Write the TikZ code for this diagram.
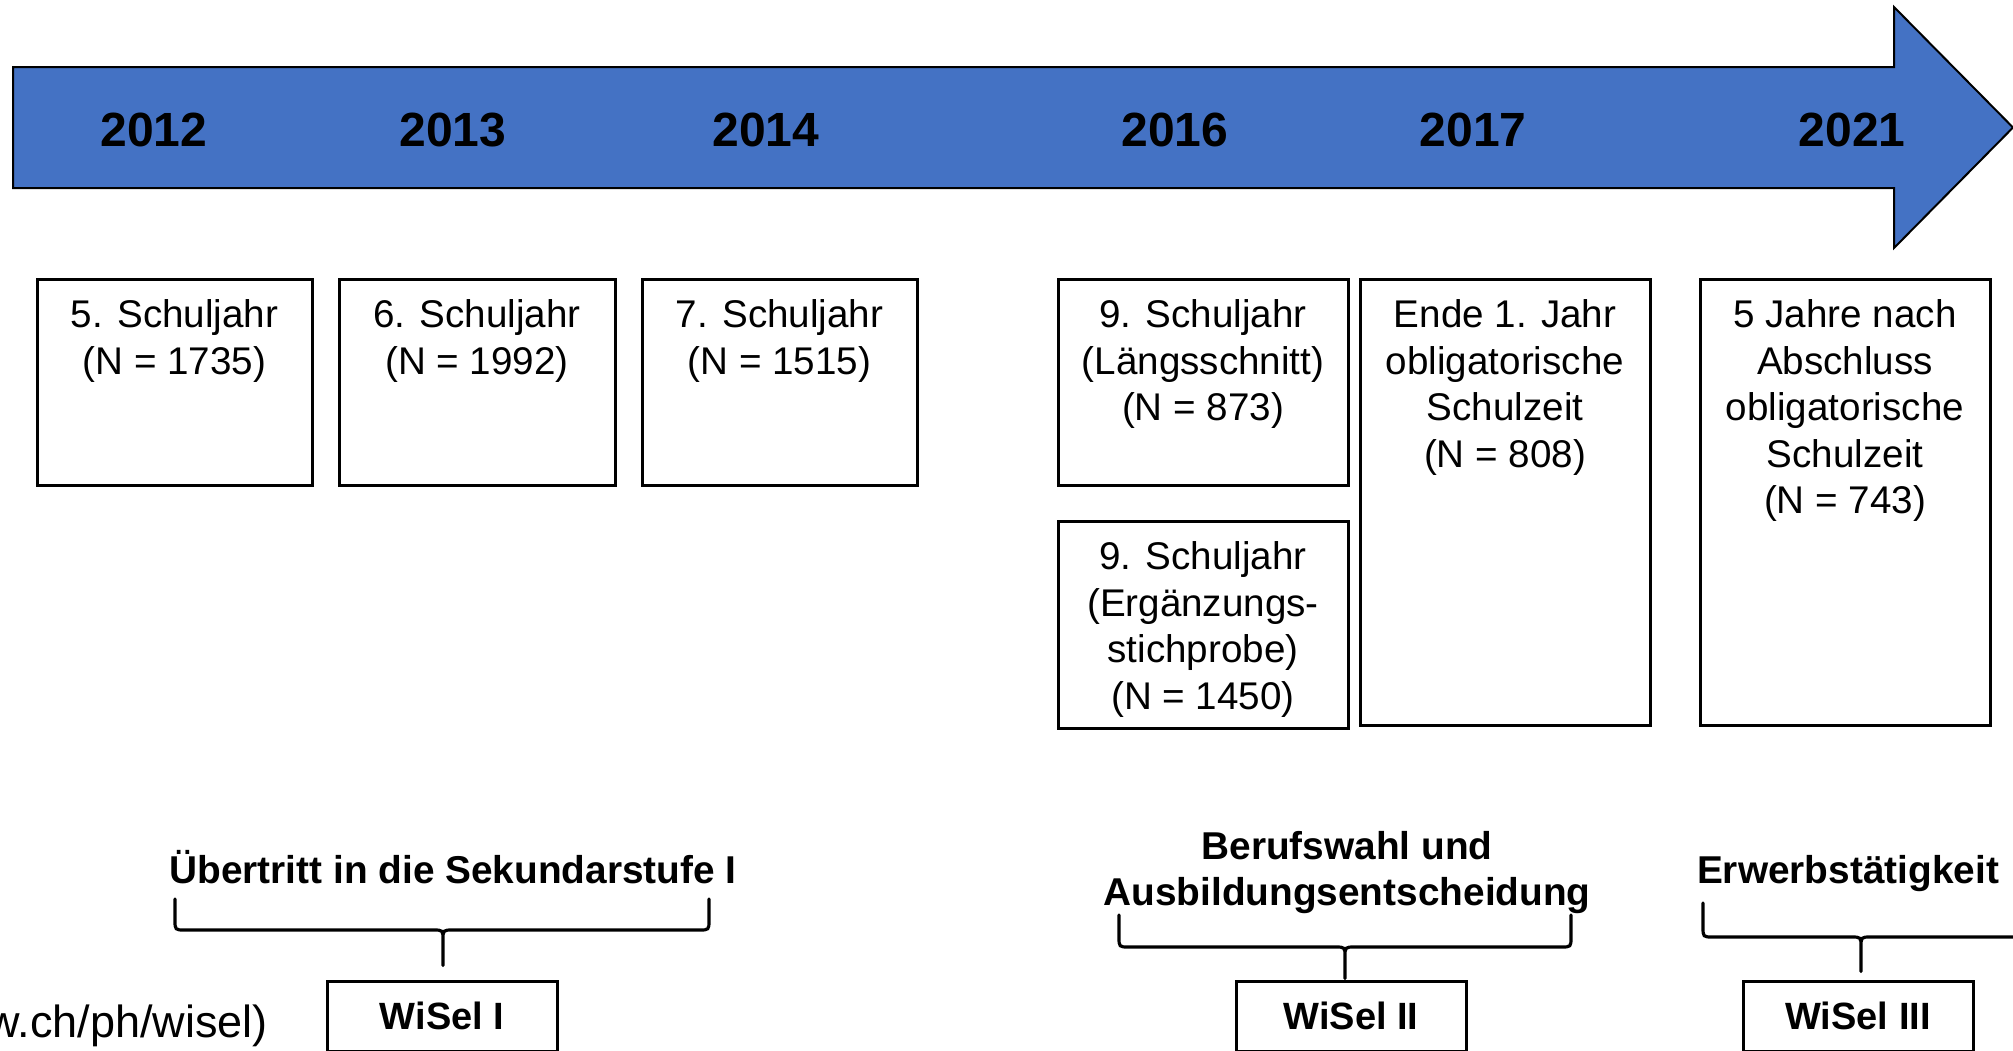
\documentclass[tikz,border=0pt]{standalone}
\usepackage{fontspec}
\setmainfont{Liberation Sans}
\definecolor{arrowblue}{HTML}{4472C4}
\begin{document}
\begin{tikzpicture}[x=0.5pt,y=-0.5pt,
  box/.style={draw, line width=1.5pt, inner sep=0pt},
  boxtext/.style={font=\fontsize{19.3}{23.3}\selectfont, align=center, inner sep=0pt, anchor=north},
  yeartext/.style={font=\fontsize{24}{28}\selectfont\bfseries, inner sep=0pt},
  lbl/.style={font=\fontsize{19.4}{23}\selectfont\bfseries, align=center, inner sep=0pt},
  brace/.style={line width=1.6pt, line cap=round, line join=round},
  wisel/.style={draw, line width=1.5pt, font=\fontsize{19}{22}\selectfont\bfseries, inner sep=0pt, minimum width=115pt, minimum height=35pt},
  urltext/.style={font=\fontsize{22.5}{26}\selectfont, inner sep=0pt}
]
\useasboundingbox (0,0) rectangle (2013,1050);
\clip (0,0) rectangle (2013,1050);
\fill[white] (0,0) rectangle (2013,1050);

% timeline arrow
\draw[fill=arrowblue, line width=1pt, line join=miter]
  (13,67) -- (1894,67) -- (1894,7) -- (2013,127.5) -- (1894,248) -- (1894,188) -- (13,188) -- cycle;

% years
\node[yeartext] (y2012) at (154,130) {2012};
\node[yeartext] (y2013) at (453,130) {2013};
\node[yeartext] (y2014) at (766,130) {2014};
\node[yeartext] (y2016) at (1175,130) {2016};
\node[yeartext] (y2017) at (1473,130) {2017};
\node[yeartext] (y2021) at (1852,130) {2021};

% boxes
\node[box, minimum width=137.5pt, minimum height=103pt] (b1) at (174.5,382) {};
\node[box, minimum width=138pt, minimum height=103pt] (b2) at (477,382) {};
\node[box, minimum width=137.5pt, minimum height=103pt] (b3) at (779.5,382) {};
\node[box, minimum width=145pt, minimum height=103pt] (b4) at (1203,382) {};
\node[box, minimum width=145pt, minimum height=103.5pt] (b5) at (1203,624.5) {};
\node[box, minimum width=145pt, minimum height=223pt] (b6) at (1505,502) {};
\node[box, minimum width=145pt, minimum height=223pt] (b7) at (1845,502) {};

\node[boxtext] (t1) at ([yshift=-10.8pt]b1.north) {5. Schuljahr\\(N = 1735)};
\node[boxtext] (t2) at ([yshift=-10.8pt]b2.north) {6. Schuljahr\\(N = 1992)};
\node[boxtext] (t3) at ([yshift=-10.8pt]b3.north) {7. Schuljahr\\(N = 1515)};
\node[boxtext] (t4) at ([yshift=-10.8pt]b4.north) {9. Schuljahr\\(Längsschnitt)\\(N = 873)};
\node[boxtext] (t5) at ([yshift=-10.8pt]b5.north) {9. Schuljahr\\(Ergänzungs-\\stichprobe)\\(N = 1450)};
\node[boxtext] (t6) at ([yshift=-10.8pt]b6.north) {Ende 1. Jahr\\obligatorische\\Schulzeit\\(N = 808)};
\node[boxtext] (t7) at ([yshift=-10.8pt]b7.north) {5 Jahre nach\\Abschluss\\obligatorische\\Schulzeit\\(N = 743)};

% phase labels
\node[lbl, anchor=base] (l1) at (453,883) {Übertritt in die Sekundarstufe I};
\node[lbl, anchor=north] (l2) at (1347,831) {Berufswahl und\\Ausbildungsentscheidung};
\node[lbl, anchor=base] (l3) at (1848,883) {Erwerbstätigkeit};

% WiSel boxes
\node[wisel] (w1) at (442,1016) {WiSel I};
\node[wisel] (w2) at (1351,1016) {WiSel II};
\node[wisel] (w3) at (1858,1016) {WiSel III};

% braces
\draw[brace] (175,899) -- (175,920) .. controls (175,930) .. (185,930) -- (433,930)
  .. controls (443,930) .. (443,940) -- ([yshift=7pt]w1.north -| 443,0)
  (443,940) .. controls (443,930) .. (453,930) -- (699,930) .. controls (709,930) .. (709,920) -- (709,899);
\draw[brace] (1119,915) -- (1119,937) .. controls (1119,947) .. (1129,947) -- (1335,947)
  .. controls (1345,947) .. (1345,957) -- ([yshift=0.5pt]w2.north -| 1345,0)
  (1345,957) .. controls (1345,947) .. (1355,947) -- (1561,947) .. controls (1571,947) .. (1571,937) -- (1571,915);
\draw[brace] (1703,903) -- (1703,927) .. controls (1703,937) .. (1713,937) -- (1851,937)
  .. controls (1861,937) .. (1861,947) -- ([yshift=4pt]w3.north -| 1861,0)
  (1861,947) .. controls (1861,937) .. (1871,937) -- (2009,937) .. controls (2019,937) .. (2019,927) -- (2019,903);

% cut-off source text
\node[urltext, anchor=base east] (url) at (268,1037) {(www.fhnw.ch/ph/wisel)};
\end{tikzpicture}
\end{document}
